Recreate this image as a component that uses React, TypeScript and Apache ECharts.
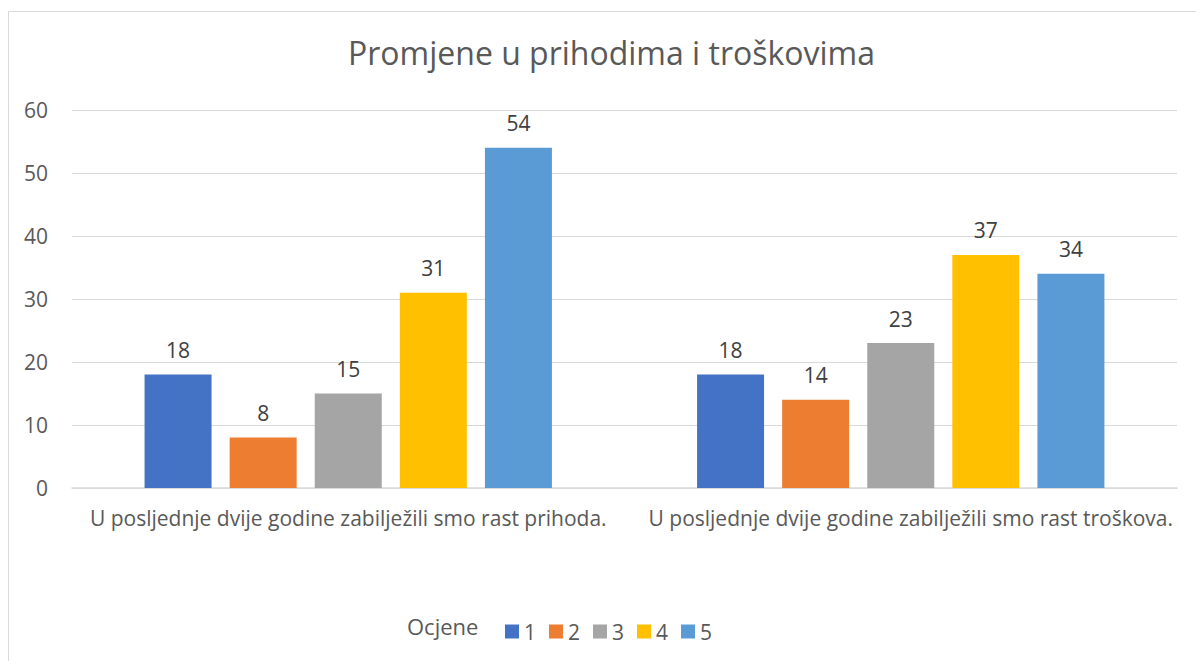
import React, { useEffect, useRef } from "react";
import * as echarts from "echarts";

const title = "Promjene u prihodima i troškovima";
const categories = [
  "U posljednje dvije godine zabilježili smo rast prihoda.",
  "U posljednje dvije godine zabilježili smo rast troškova.",
];
const seriesNames = ["1", "2", "3", "4", "5"];
const ocjena1 = [18, 18];
const ocjena2 = [8, 14];
const ocjena3 = [15, 23];
const ocjena4 = [31, 37];
const ocjena5 = [54, 34];
const seriesValues = [ocjena1, ocjena2, ocjena3, ocjena4, ocjena5];
const colors = ["#4472C4", "#ED7D31", "#A5A5A5", "#FFC000", "#5B9BD5"];
const legendTitle = "Ocjene";

const FONT = "'Open Sans', 'Noto Sans', sans-serif";

export default function App() {
  const ref = useRef<HTMLDivElement>(null);
  useEffect(() => {
    if (!ref.current) return;
    const chart = echarts.init(ref.current, null, { renderer: "svg" });
    chart.setOption({
      animation: false,
      backgroundColor: "#ffffff",
      textStyle: { fontFamily: FONT },
      title: {
        text: title,
        left: 343,
        top: 31,
        textStyle: { fontFamily: FONT, fontSize: 32, fontWeight: "normal", color: "#595959" },
      },
      graphic: [
        {
          type: "rect",
          shape: { x: 8.5, y: 11.5, width: 1220, height: 700 },
          style: { fill: "none", stroke: "#d9d9d9", lineWidth: 1 },
          silent: true,
        },
        {
          type: "text",
          left: 407,
          top: 615,
          style: { text: legendTitle, fontFamily: FONT, fontSize: 22, fill: "#595959" },
        },
      ],
      legend: {
        data: seriesNames,
        left: 500,
        top: 616,
        icon: "rect",
        itemWidth: 14,
        itemHeight: 14,
        itemGap: 13,
        textStyle: { fontFamily: FONT, fontSize: 21, color: "#595959" },
      },
      grid: { left: 72, right: 19, top: 110, bottom: 173, containLabel: false },
      xAxis: {
        type: "category",
        data: categories.map((c, i) =>
          i === 1 ? { value: c, textStyle: { padding: [0, 0, 0, 20] } } : c
        ),
        axisTick: { show: false },
        axisLine: { lineStyle: { color: "#d9d9d9", width: 1.5 } },
        axisLabel: { fontFamily: FONT, fontSize: 21, color: "#595959", margin: 19, interval: 0 },
      },
      yAxis: {
        type: "value",
        min: 0,
        max: 60,
        interval: 10,
        axisLine: { show: false },
        axisTick: { show: false },
        splitLine: { lineStyle: { color: "#d9d9d9", width: 1 } },
        axisLabel: { fontFamily: FONT, fontSize: 21, color: "#595959", margin: 24 },
      },
      series: seriesNames.map((name, i) => ({
        name,
        type: "bar",
        data: seriesValues[i],
        barWidth: 67,
        barGap: "27%",
        itemStyle: { color: colors[i] },
        label: {
          show: true,
          position: "top",
          distance: 14,
          fontFamily: FONT,
          fontSize: 21,
          color: "#404040",
        },
      })),
    });
    return () => chart.dispose();
  }, []);
  return (
    <div style={{ position: "fixed", left: 0, top: 0, width: 1196, height: 661, background: "#fff" }}>
      <div ref={ref} style={{ width: 1196, height: 661 }} />
    </div>
  );
}
